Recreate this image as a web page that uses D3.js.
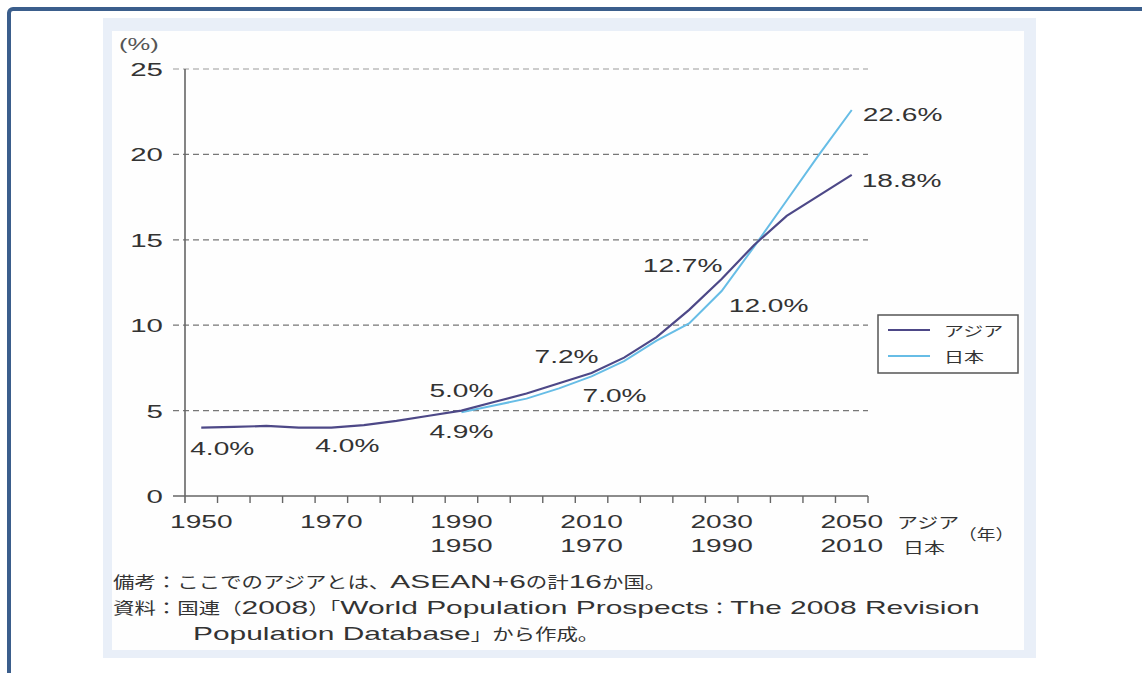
<!DOCTYPE html>
<html><head><meta charset="utf-8">
<script src="https://cdn.jsdelivr.net/npm/d3@7"></script>
<style>html,body{margin:0;padding:0;background:#fff;overflow:hidden}svg{display:block}</style>
</head><body>
<svg id="chart" width="1142" height="673"></svg>
<script>
// ---------------- data ----------------
const asiaYears = [1950,1955,1960,1965,1970,1975,1980,1985,1990,1995,2000,2005,2010,2015,2020,2025,2030,2035,2040,2045,2050];
const asiaValues = [4.0,4.05,4.1,4.0,4.0,4.15,4.4,4.7,5.0,5.5,6.0,6.6,7.2,8.1,9.3,10.9,12.7,14.7,16.4,17.6,18.8];
const japanYears = [1950,1955,1960,1965,1970,1975,1980,1985,1990,1995,2000,2005,2010];
const japanValues = [4.9,5.3,5.7,6.3,7.0,7.9,9.1,10.1,12.0,14.6,17.3,20.0,22.6];
const japanShift = 40; // Japan's axis row is offset by 40 years
const asiaTickLabels = [1950,1970,1990,2010,2030,2050];
const japanTickLabels = [1950,1970,1990,2010];
const yTickValues = [0,5,10,15,20,25];
const seriesNames = ["アジア","日本"];
const asiaValueLabels = [
  {year:1950,text:"4.0%"},{year:1970,text:"4.0%"},{year:1990,text:"5.0%"},
  {year:2010,text:"7.2%"},{year:2030,text:"12.7%"},{year:2050,text:"18.8%"}];
const japanValueLabels = [
  {year:1950,text:"4.9%"},{year:1970,text:"7.0%"},{year:1990,text:"12.0%"},{year:2010,text:"22.6%"}];
const yUnit = "(%)";
const xUnit = "（年）";
const notes = [
  "備考：ここでのアジアとは、ASEAN+6の計16か国。",
  "資料：国連（2008）「World Population Prospects：The 2008 Revision",
  "Population Database」から作成。"];

// ---------------- layout / style ----------------
const FONT = "'Liberation Sans','Noto Sans CJK JP',sans-serif";
const LFONT = "'Liberation Sans',sans-serif";
const JFONT = "'Noto Sans CJK JP',sans-serif";
const SX = 1.48;
const TXT = "#333";
const asiaColor = "#4d4887";
const japanColor = "#67bde6";
const labelPlace = { // offsets from data point: dx, baseline dy, anchor
  "a1950":[21,27,"middle"],"a1970":[16,24,"middle"],"a1990":[0,-14,"middle"],
  "a2010":[-25,-10,"middle"],"a2030":[-39,-7,"middle"],"a2050":[10,12,"start"],
  "j1950":[0,26,"middle"],"j1970":[23,26,"middle"],"j1990":[47,21,"middle"],"j2010":[11,11,"start"]
};

const svg = d3.select("#chart");

function addText(parent, x, y, str, o = {}) {
  return parent.append("text")
    .attr("transform", `translate(${x},${y}) scale(${o.sx || SX},1)`)
    .attr("text-anchor", o.anchor || "start")
    .attr("font-size", o.size || 19)
    .attr("font-family", o.family || FONT)
    .attr("fill", o.fill || TXT)
    .text(str);
}

// mixed Japanese / Latin line: each run gets its own width factor
const CJK = "\u3000-\u303f\u3040-\u30ff\u4e00-\u9fff\uff00-\uffef";
function addMixed(parent, x, y, str, o) {
  const runs = str.match(new RegExp(`[${CJK}]+|[^${CJK}]+`, "g"));
  let cur = x;
  runs.forEach(r => {
    const isCjk = new RegExp(`[${CJK}]`).test(r);
    const sx = isCjk ? o.csx : o.lsx;
    const t = parent.append("text")
      .attr("transform", `translate(${cur},${y}) scale(${sx},1)`)
      .attr("font-size", isCjk ? o.csize : o.lsize)
      .attr("font-family", isCjk ? JFONT : LFONT)
      .attr("fill", TXT)
      .style("white-space", "pre")
      .text(r);
    cur += t.node().getComputedTextLength() * sx;
  });
}

// frame and panel
svg.append("rect").attr("x",9).attr("y",9).attr("width",1200).attr("height",700)
  .attr("rx",4).attr("fill","none").attr("stroke","#3b5e8c").attr("stroke-width",4);
svg.append("rect").attr("x",103).attr("y",18).attr("width",933).attr("height",640).attr("fill","#e9eff8");
svg.append("rect").attr("x",112).attr("y",31).attr("width",912).attr("height",619).attr("fill","#fefefe");

// scales
const x = d3.scaleBand().domain(asiaYears).range([185,868]);
const cx = yr => x(yr) + x.bandwidth()/2;
const y = d3.scaleLinear().domain([0,25]).range([496,69]);
const xL = 173, xR = 868;

// grid
const g = svg.append("g");
g.selectAll(".grid").data(yTickValues.filter(v => v > 0)).join("line")
  .attr("x1",xL).attr("x2",xR).attr("y1",d=>y(d)).attr("y2",d=>y(d))
  .attr("stroke",d => d === 25 ? "#999" : "#777").attr("stroke-width",1.2).attr("stroke-dasharray","6,4");

// axes
g.append("line").attr("x1",xL).attr("x2",xR).attr("y1",y(0)).attr("y2",y(0))
  .attr("stroke","#666").attr("stroke-width",1.6);
g.append("line").attr("x1",x.range()[0]).attr("x2",x.range()[0]).attr("y1",y(25)).attr("y2",y(0)+7)
  .attr("stroke","#666").attr("stroke-width",1.6);
const tickXs = asiaYears.slice(1).map(yr => x(yr)).concat([x.range()[1]]);
g.selectAll(".xt").data(tickXs).join("line")
  .attr("x1",d=>d).attr("x2",d=>d).attr("y1",y(0)).attr("y2",y(0)+7)
  .attr("stroke","#666").attr("stroke-width",1.4);

// y tick labels
yTickValues.forEach(v => addText(g, 163, y(v)+7, String(v), {anchor:"end", sx:1.55}));
addText(g, 119, 50, yUnit, {size:16, sx:1.6, fill:"#555"});

// x tick labels
asiaTickLabels.forEach(yr => addText(g, cx(yr), 528, String(yr), {anchor:"middle"}));
japanTickLabels.forEach(yr => addText(g, cx(yr + japanShift), 552, String(yr), {anchor:"middle"}));
addText(g, 897, 528, seriesNames[0], {size:15, sx:1.4, family:JFONT});
addText(g, 903, 553, seriesNames[1], {size:15, sx:1.4, family:JFONT});
addText(g, 958, 540, xUnit, {size:15, sx:1.25, family:JFONT});

// lines
const line = d3.line().x(d=>d[0]).y(d=>d[1]);
const asiaPts = asiaYears.map((yr,i) => [cx(yr), y(asiaValues[i])]);
const japanPts = japanYears.map((yr,i) => [cx(yr + japanShift), y(japanValues[i])]);
g.append("path").attr("d", line(japanPts)).attr("fill","none")
  .attr("stroke",japanColor).attr("stroke-width",2);
g.append("path").attr("d", line(asiaPts)).attr("fill","none")
  .attr("stroke",asiaColor).attr("stroke-width",2.2);

// value labels
asiaValueLabels.forEach(l => {
  const i = asiaYears.indexOf(l.year);
  const p = labelPlace["a"+l.year];
  addText(g, cx(l.year)+p[0], y(asiaValues[i])+p[1], l.text, {anchor:p[2]});
});
japanValueLabels.forEach(l => {
  const i = japanYears.indexOf(l.year);
  const p = labelPlace["j"+l.year];
  addText(g, cx(l.year+japanShift)+p[0], y(japanValues[i])+p[1], l.text, {anchor:p[2]});
});

// legend
const lg = svg.append("g");
lg.append("rect").attr("x",878).attr("y",315).attr("width",140).attr("height",58)
  .attr("fill","#fff").attr("stroke","#555").attr("stroke-width",1.5);
[asiaColor, japanColor].forEach((c,i) => {
  const yy = 330 + i*26;
  lg.append("line").attr("x1",888).attr("x2",930).attr("y1",yy).attr("y2",yy)
    .attr("stroke",c).attr("stroke-width",2.2);
  addText(lg, 944, yy+6, seriesNames[i], {size:14, sx:1.43, family:JFONT});
});

// notes
const noteStyle = {csize:16, csx:1.34, lsize:17.5, lsx:1.71};
addMixed(svg, 113, 588, notes[0], noteStyle);
addMixed(svg, 113, 614, notes[1], noteStyle);
addMixed(svg, 193, 640, notes[2], noteStyle);
</script>
</body></html>
